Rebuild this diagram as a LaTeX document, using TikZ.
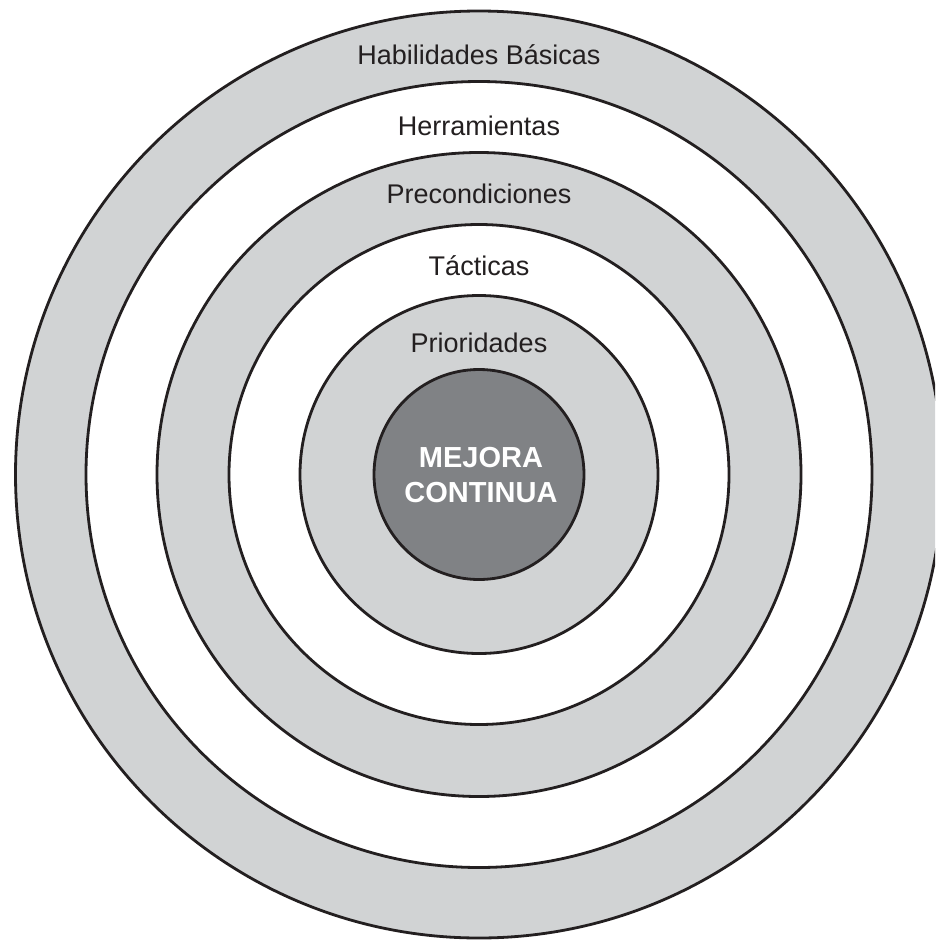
\documentclass[tikz,border=0pt]{standalone}
\usepackage{fontspec}
\setmainfont{Liberation Sans}
\definecolor{ringgray}{HTML}{D1D3D4}
\definecolor{coregray}{HTML}{808285}
\definecolor{ink}{HTML}{231F20}
\begin{document}
\begin{tikzpicture}[x=1pt,y=-1pt,
  ring/.style={draw=ink,line width=2.8pt},
  label/.style={text=ink,font=\fontsize{27}{32}\selectfont,anchor=base,inner sep=0pt},
  corelabel/.style={text=white,font=\fontsize{29}{35}\selectfont\bfseries,anchor=base,inner sep=0pt}]
\useasboundingbox (0,0) rectangle (935,940);
\clip (0,0) rectangle (935,940);
\fill[white] (0,0) rectangle (935,940);
\coordinate (c) at (479,474.5);
% concentric bands, outermost first
\path[ring,fill=ringgray] (c) circle[radius=463.5pt];
\path[ring,fill=white]    (c) circle[radius=393pt];
\path[ring,fill=ringgray] (c) circle[radius=322pt];
\path[ring,fill=white]    (c) circle[radius=250pt];
\path[ring,fill=ringgray] (c) circle[radius=179pt];
\path[ring,fill=coregray] (c) circle[radius=105pt];
% band labels
\node[label] (hab)  at (479,64)  {Habilidades Básicas};
\node[label] (herr) at (479,135) {Herramientas};
\node[label] (pre)  at (479,203) {Precondiciones};
\node[label] (tac)  at (479,275) {Tácticas};
\node[label] (pri)  at (479,352) {Prioridades};
% core
\node[corelabel] (mej) at (481,467) {MEJORA};
\node[corelabel] (con) at (481,502) {CONTINUA};
\end{tikzpicture}
\end{document}
